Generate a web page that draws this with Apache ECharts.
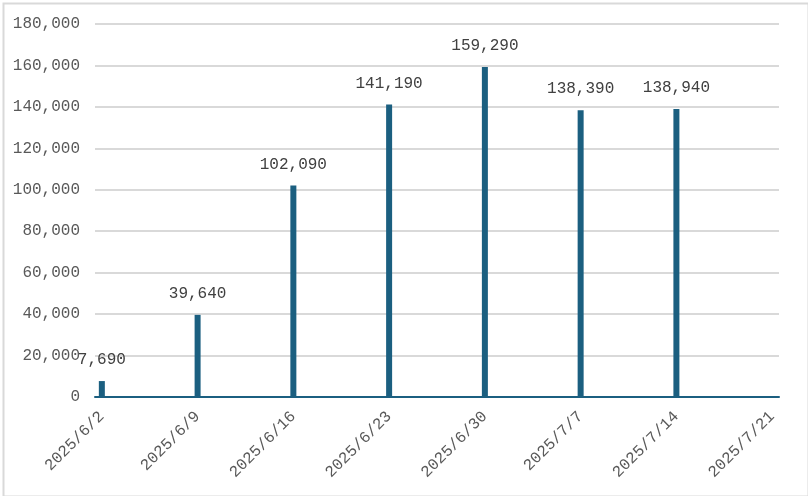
<!DOCTYPE html>
<html>
<head>
<meta charset="utf-8">
<script src="https://cdn.jsdelivr.net/npm/echarts@6/dist/echarts.min.js"></script>
<style>
html,body{margin:0;padding:0;background:#fff;}
#c{width:808px;height:496px;}
</style>
</head>
<body>
<div id="c"></div>
<script>
// Weekly dates and values
const weekDates = ['2025/6/2','2025/6/9','2025/6/16','2025/6/23','2025/6/30','2025/7/7','2025/7/14','2025/7/21'];
const weekValues = [7690, 39640, 102090, 141190, 159290, 138390, 138940, null];
const yTicks = {min: 0, max: 180000, interval: 20000};

// Build the daily category axis (Excel date axis, day base unit)
const start = new Date(2025, 5, 2);
const end = new Date(2025, 6, 21);
const categories = [];
for (let d = new Date(start); d <= end; d.setDate(d.getDate() + 1)) {
  categories.push(d.getFullYear() + '/' + (d.getMonth() + 1) + '/' + d.getDate());
}
const seriesData = categories.map(c => {
  const i = weekDates.indexOf(c);
  return i >= 0 ? weekValues[i] : null;
});

const font = '"Liberation Mono", "DejaVu Sans Mono", monospace';
const chart = echarts.init(document.getElementById('c'), null, {renderer: 'canvas'});
chart.setOption({
  animation: false,
  backgroundColor: '#fff',
  graphic: [{
    type: 'rect', left: 1, top: 1, silent: true,
    shape: {width: 805, height: 493},
    style: {fill: 'none', stroke: '#d9d9d9', lineWidth: 2}
  }],
  grid: {left: 95, right: 29, top: 24, bottom: 99},
  xAxis: {
    type: 'category',
    data: categories,
    boundaryGap: true,
    axisLine: {lineStyle: {color: '#1b5f80', width: 2}},
    axisTick: {show: false},
    axisLabel: {
      interval: (idx) => weekDates.indexOf(categories[idx]) >= 0,
      rotate: 45,
      margin: 17,
      color: '#595959',
      fontFamily: font,
      fontSize: 16
    }
  },
  yAxis: {
    type: 'value',
    min: yTicks.min, max: yTicks.max, interval: yTicks.interval,
    axisLine: {show: false},
    axisTick: {show: false},
    splitLine: {lineStyle: {color: '#d9d9d9', width: 2}},
    axisLabel: {
      margin: 15,
      color: '#595959',
      fontFamily: font,
      fontSize: 16,
      formatter: v => v.toLocaleString('en-US')
    }
  },
  series: [{
    type: 'bar',
    data: seriesData,
    barWidth: 6,
    itemStyle: {color: '#1b5f80'},
    label: {
      show: true,
      position: 'top',
      distance: 13,
      color: '#404040',
      fontFamily: font,
      fontSize: 16,
      formatter: p => p.value == null ? '' : p.value.toLocaleString('en-US')
    }
  }]
});
</script>
</body>
</html>
